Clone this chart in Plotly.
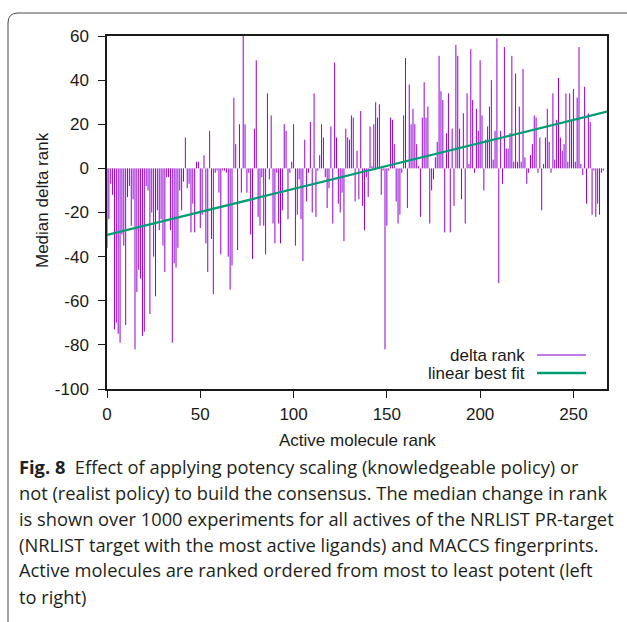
import plotly.graph_objects as go

# Median change in rank for each active (ordered from most to least potent)
rank_index = list(range(267))
delta_rank = [
    -36, -23, -7, -12, -73, -70, -75, -79, -30, -35,
    -71, -13, -8, -26, -14, -82, -56, -46, -50, -76,
    -74, -8, -10, -66, -20, -40, -58, -19, -28, -23,
    -35, -47, -4, -4, -28, -79, -43, -45, -36, -10,
    -19, -6, 14, -9, -7, -29, -16, -29, 3, 3,
    -27, -21, 6, -34, -47, 17, -32, -57, -2, -1,
    -11, -39, -1, -1, -2, -40, -55, -44, 32, 11,
    -37, 20, -11, 60, 20, -11, -2, -30, -41, 18,
    49, -22, -26, -4, -26, -39, 34, -5, 24, -25,
    -34, -2, -25, -34, -19, 20, 17, -23, -2, 3,
    20, -35, -21, -5, -23, -42, 13, -15, -2, 21,
    -20, 34, -22, -1, 6, 20, 14, -4, -18, -9,
    19, -25, 48, 14, -16, -20, -11, -33, 18, 14,
    13, 24, 23, -15, 8, -14, 26, -17, -28, -4,
    -13, 19, 1, 20, 30, 23, 29, -12, -1, -82,
    -26, -1, 23, 22, 11, -15, -25, -21, -2, 24,
    50, -18, 38, 20, 27, 20, 11, 1, -22, 23,
    39, 23, 28, -25, -10, -5, 5, 12, 51, 35,
    31, -29, 16, 34, -29, 18, -17, 56, 51, 18,
    -14, 25, -25, 34, 2, 54, 31, -2, 27, 17,
    49, 24, -10, 13, 19, 28, 40, 4, 17, 59,
    -52, 17, -7, 55, 9, 9, 16, 51, 3, 43,
    3, 28, 3, 45, 5, -7, -2, 6, 11, 24,
    23, -2, 14, -19, 2, 14, 27, 12, -2, 34,
    4, 22, 41, 14, 8, 11, 34, 3, 34, 22,
    36, 3, 32, 55, 2, -3, 37, -16, 25, 21,
    -21, -1, -22, -16, -21, -2, -1,
]

# Linear best fit of delta rank against rank
fit_intercept = -30.2
fit_slope = 0.2086
fit_x = [0, 268]
fit_y = [fit_intercept + fit_slope * x for x in fit_x]

x_ticks = [0, 50, 100, 150, 200, 250]
y_ticks = [-100, -80, -60, -40, -20, 0, 20, 40, 60]

caption_lines = [
    "<b>Fig. 8</b>  Effect of applying potency scaling (knowledgeable policy) or",
    "not (realist policy) to build the consensus. The median change in rank",
    "is shown over 1000 experiments for all actives of the NRLIST PR-target",
    "(NRLIST target with the most active ligands) and MACCS fingerprints.",
    "Active molecules are ranked ordered from most to least potent (left",
    "to right)",
]

PURPLE = "#9400d3"
GREEN = "#009e73"
AXIS_FONT = "Liberation Sans, Arial, sans-serif"
CAPTION_FONT = "Open Sans, Noto Sans, sans-serif"

W, H = 627, 622
L, R, T, B = 107, 20, 36, 233
PW, PH = W - L - R, H - T - B


def px(x):
    return (x - L) / PW


def py(y):
    return (H - B - y) / PH


# impulses: one vertical segment from zero to each value
imp_x, imp_y = [], []
for i, v in zip(rank_index, delta_rank):
    imp_x += [i, i, None]
    imp_y += [0, v, None]

fig = go.Figure()
fig.add_trace(go.Scatter(x=imp_x, y=imp_y, mode="lines",
                         line=dict(color=PURPLE, width=1),
                         hoverinfo="skip", showlegend=False))
fig.add_trace(go.Scatter(x=fit_x, y=fit_y, mode="lines",
                         line=dict(color=GREEN, width=2.2),
                         showlegend=False))

axis_common = dict(showgrid=False, zeroline=False, showline=True, mirror=True,
                   linecolor="#1a1a1a", linewidth=1.5, ticks="outside",
                   ticklen=7, tickwidth=1, tickcolor="#1a1a1a",
                   tickfont=dict(family=AXIS_FONT, size=17, color="#1a1a1a"))

fig.update_xaxes(range=[0, 268], tickvals=x_ticks,
                 ticktext=[str(v) for v in x_ticks], ticklabelstandoff=2,
                 **axis_common)
fig.update_yaxes(range=[-100, 60], tickvals=y_ticks,
                 ticktext=[str(v) for v in y_ticks], ticklabelstandoff=6,
                 **axis_common)

annotations = [
    dict(text="Active molecule rank", x=0.5, y=py(440), xref="paper", yref="paper",
         showarrow=False, xanchor="center", yanchor="middle",
         font=dict(family=AXIS_FONT, size=17, color="#1a1a1a")),
    dict(text="Median delta rank", x=px(42), y=py(200), xref="paper", yref="paper",
         showarrow=False, textangle=-90, xanchor="center", yanchor="middle",
         font=dict(family=AXIS_FONT, size=17, color="#1a1a1a")),
    dict(text="delta rank", x=px(527), y=py(355), xref="paper", yref="paper",
         showarrow=False, xanchor="right", yanchor="middle",
         font=dict(family=AXIS_FONT, size=17, color="#1a1a1a")),
    dict(text="linear best fit", x=px(527), y=py(373), xref="paper", yref="paper",
         showarrow=False, xanchor="right", yanchor="middle",
         font=dict(family=AXIS_FONT, size=17, color="#1a1a1a")),
]
for k, line in enumerate(caption_lines):
    annotations.append(dict(text=line, x=px(17), y=py(466 + 26 * k),
                            xref="paper", yref="paper", showarrow=False,
                            xanchor="left", yanchor="middle",
                            font=dict(family=CAPTION_FONT, size=18.3, color="#231f20")))

# legend samples and the rounded figure frame
x0, ytop, rad = px(8), py(13), 10
frame_path = (f"M {x0},{py(640)} L {x0},{py(13 + rad)} "
              f"Q {x0},{ytop} {px(8 + rad)},{ytop} L {px(640)},{ytop}")
shapes = [
    dict(type="line", xref="paper", yref="paper", x0=px(537), x1=px(586),
         y0=py(355), y1=py(355), line=dict(color="#c27be6", width=2)),
    dict(type="line", xref="paper", yref="paper", x0=px(537), x1=px(586),
         y0=py(373), y1=py(373), line=dict(color=GREEN, width=2.5)),
    dict(type="path", xref="paper", yref="paper", path=frame_path,
         line=dict(color="#4a4a4a", width=1)),
]

fig.update_layout(width=W, height=H, margin=dict(l=L, r=R, t=T, b=B),
                  paper_bgcolor="white", plot_bgcolor="white",
                  annotations=annotations, shapes=shapes, showlegend=False)

fig.write_html("out.html")
